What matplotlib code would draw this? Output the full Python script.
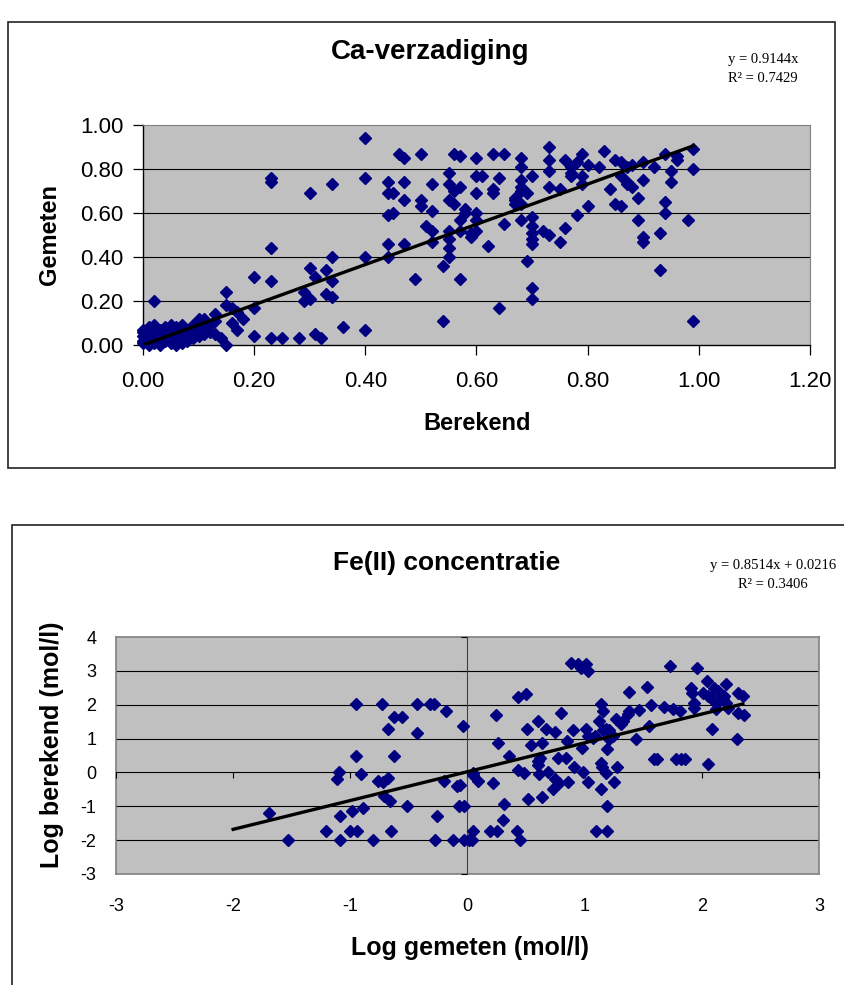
import matplotlib
matplotlib.use('Agg')
import matplotlib.pyplot as plt
from matplotlib.patches import Rectangle
import numpy as np

plt.rcParams['font.family'] = ['Liberation Sans', 'DejaVu Sans']
plt.rcParams['axes.unicode_minus'] = False

# --- Ca-verzadiging: berekend (x) vs gemeten (y) ---
ca_berekend = [
    0.00, 0.00, 0.00, 0.00, 0.01, 0.01, 0.01, 0.01, 0.02, 0.02, 0.02, 0.02, 0.03, 0.03, 0.03,
    0.04, 0.04, 0.04, 0.05, 0.05, 0.05, 0.05, 0.06, 0.06, 0.06, 0.06, 0.07, 0.07, 0.07, 0.08,
    0.08, 0.08, 0.09, 0.09, 0.09, 0.10, 0.10, 0.10, 0.11, 0.11, 0.12, 0.12, 0.13, 0.10, 0.01,
    0.00, 0.03, 0.04, 0.07, 0.02,
    0.40, 0.23, 0.23, 0.30, 0.34, 0.40, 0.23, 0.23, 0.20, 0.02, 0.15, 0.30, 0.31, 0.33, 0.34,
    0.34, 0.29, 0.29, 0.30, 0.33, 0.34, 0.40, 0.40, 0.36, 0.31, 0.32, 0.28, 0.25, 0.23, 0.20,
    0.20, 0.18, 0.16, 0.15, 0.17, 0.16, 0.17, 0.15, 0.13, 0.14, 0.13, 0.11,
    0.44, 0.44, 0.45, 0.46, 0.47, 0.47, 0.47, 0.44, 0.45, 0.44, 0.47, 0.44, 0.49, 0.50, 0.50,
    0.50, 0.52, 0.52, 0.51, 0.52, 0.52, 0.54, 0.54, 0.55, 0.55, 0.56, 0.57, 0.55, 0.56, 0.57,
    0.56, 0.55, 0.55, 0.55, 0.55, 0.57, 0.57, 0.58, 0.58, 0.57, 0.59, 0.59, 0.60, 0.60, 0.61,
    0.60, 0.60, 0.60, 0.60, 0.62, 0.63, 0.65, 0.63, 0.63, 0.64, 0.65, 0.64, 0.67, 0.67, 0.68,
    0.67, 0.68, 0.68, 0.68, 0.68, 0.68, 0.69, 0.68, 0.69, 0.70, 0.70, 0.70, 0.70, 0.70, 0.70,
    0.70, 0.70, 0.73, 0.73, 0.73, 0.73, 0.72, 0.73, 0.75, 0.76, 0.76, 0.75, 0.77, 0.77, 0.77,
    0.78, 0.78, 0.79, 0.79, 0.79, 0.80, 0.80, 0.82, 0.83, 0.84, 0.85, 0.86, 0.85, 0.86, 0.86,
    0.87, 0.87, 0.88, 0.87, 0.88, 0.89, 0.89, 0.90, 0.90, 0.90, 0.90, 0.92, 0.93, 0.93, 0.94,
    0.94, 0.94, 0.95, 0.95, 0.96, 0.96, 0.98, 0.99, 0.99, 0.99,
]
ca_gemeten = [
    0.02, 0.04, 0.06, 0.01, 0.03, 0.05, 0.07, 0.00, 0.02, 0.04, 0.06, 0.01, 0.03, 0.05, 0.00,
    0.02, 0.04, 0.06, 0.01, 0.03, 0.07, 0.09, 0.02, 0.05, 0.08, 0.00, 0.03, 0.06, 0.01, 0.04,
    0.02, 0.07, 0.05, 0.03, 0.09, 0.06, 0.04, 0.08, 0.07, 0.05, 0.09, 0.06, 0.11, 0.12, 0.08,
    0.07, 0.07, 0.08, 0.09, 0.09,
    0.94, 0.76, 0.74, 0.69, 0.73, 0.76, 0.44, 0.29, 0.31, 0.20, 0.24, 0.35, 0.31, 0.34, 0.40,
    0.29, 0.24, 0.20, 0.21, 0.23, 0.22, 0.40, 0.07, 0.08, 0.05, 0.03, 0.03, 0.03, 0.03, 0.04,
    0.17, 0.12, 0.17, 0.18, 0.15, 0.10, 0.07, 0.00, 0.05, 0.03, 0.14, 0.12,
    0.74, 0.69, 0.69, 0.87, 0.85, 0.74, 0.66, 0.59, 0.60, 0.46, 0.46, 0.40, 0.30, 0.87, 0.66,
    0.63, 0.73, 0.61, 0.54, 0.52, 0.47, 0.36, 0.11, 0.78, 0.73, 0.87, 0.86, 0.66, 0.64, 0.72,
    0.70, 0.52, 0.48, 0.44, 0.40, 0.57, 0.52, 0.60, 0.62, 0.30, 0.51, 0.49, 0.85, 0.77, 0.77,
    0.69, 0.60, 0.57, 0.52, 0.45, 0.87, 0.87, 0.71, 0.69, 0.76, 0.55, 0.17, 0.67, 0.66, 0.64,
    0.64, 0.85, 0.81, 0.75, 0.72, 0.70, 0.69, 0.57, 0.38, 0.77, 0.58, 0.54, 0.51, 0.48, 0.46,
    0.26, 0.21, 0.90, 0.84, 0.79, 0.72, 0.52, 0.50, 0.47, 0.84, 0.53, 0.71, 0.81, 0.78, 0.77,
    0.83, 0.59, 0.87, 0.77, 0.73, 0.82, 0.63, 0.81, 0.88, 0.71, 0.84, 0.83, 0.64, 0.63, 0.77,
    0.74, 0.73, 0.72, 0.81, 0.82, 0.67, 0.57, 0.83, 0.75, 0.49, 0.47, 0.81, 0.51, 0.34, 0.87,
    0.65, 0.60, 0.79, 0.74, 0.86, 0.84, 0.57, 0.89, 0.80, 0.11,
]
ca_slope = 0.9144
ca_fit_range = [0.0, 0.99]

# --- Fe(II) concentratie: log gemeten (x) vs log berekend (y) ---
fe_gemeten = [
    -1.69, -1.53, -1.21, -1.09, -1.09, -0.99, -0.89, -1.00, -0.94, -0.81, -1.11, -1.10, -0.91,
    -0.95, -0.95, -0.73, -0.63, -0.56, -0.68, -0.43, -0.43, -0.32, -0.29, -0.18, -0.04, -0.63,
    -0.76, -0.72, -0.68, -0.71, -0.66, -0.52, -0.65, -0.26, -0.28, -0.20, -0.09, -0.07, -0.03,
    -0.12, -0.03, 0.01, 0.04, 0.05, 0.05, 0.09, 0.05, -0.06, 0.22, 0.24, 0.26, 0.35, 0.31,
    0.30, 0.19, 0.25, 0.43, 0.50, 0.43, 0.48, 0.42, 0.45, 0.52, 0.64, 0.51, 0.60, 0.54, 0.64,
    0.60, 0.62, 0.60, 0.61, 0.69, 0.73, 0.75, 0.78, 0.67, 0.75, 0.80, 0.86, 0.77, 0.84, 0.85,
    0.91, 0.90, 0.88, 0.94, 0.97, 1.01, 1.03, 0.98, 0.99, 1.03, 1.01, 1.03, 1.07, 1.09, 1.12,
    1.16, 1.18, 1.21, 1.14, 1.16, 1.14, 1.15, 1.19, 1.14, 1.18, 1.19, 1.10, 1.19, 1.25, 1.28,
    1.21, 1.24, 1.27, 1.31, 1.33, 1.37, 1.38, 1.38, 1.44, 1.46, 1.53, 1.55, 1.57, 1.59, 1.62,
    1.68, 1.73, 1.75, 1.78, 1.82, 1.86, 1.81, 1.91, 1.92, 1.93, 1.93, 1.96, 2.04, 2.01, 2.05,
    2.08, 2.10, 2.14, 2.10, 2.15, 2.18, 2.09, 2.05, 2.12, 2.21, 2.22, 2.30, 2.31, 2.35, 2.31,
    2.36, 2.19, 2.21,
]
fe_berekend = [
    -1.21, -2.00, -1.74, -2.00, -1.29, -1.15, -1.06, -1.74, -1.74, -2.00, -0.18, 0.00, -0.06,
    0.50, 2.03, 2.03, 1.65, 1.65, 1.29, 1.15, 2.03, 2.03, 2.03, 1.82, 1.38, 0.50,
    -0.24, -0.29, -0.15, -0.71, -0.85, -1.00, -1.74, -1.29, -2.00, -0.24, -0.40, -1.00, -1.00,
    -2.00, -2.00, -2.00, -2.00, -1.74, -0.09, -0.24, -0.03, -0.38, -0.32, 1.71, 0.88, 0.50, -0.94,
    -1.41, -1.74, -1.74, 2.24, 2.32, 0.06, -0.03, -1.74, -2.00, -0.79, -0.74, 1.29, 1.53, 0.82, 0.88,
    0.35, 0.44, 0.21, -0.06, 0.00, -0.50, -0.18, -0.32, 1.29, 1.18, 1.76, -0.29, 0.44, 0.44, 0.94,
    0.15, 1.24, 3.24, 3.20, 3.09, 3.20, 3.00, 0.71, 0.00, -0.29, 1.29, 1.09, 1.03, 1.09, 1.53,
    1.24, 1.29, 1.24, 2.03, 1.82, 0.29, 0.15, 0.68, -0.50, -0.03, -1.00, -1.74, -1.74, -0.29, 0.15,
    1.00, 1.09, 1.59, 1.44, 1.53, 1.74, 1.82, 2.38, 1.00, 1.85, 2.53, 1.38, 2.00, 0.41, 0.41,
    1.94, 3.15, 1.88, 0.41, 0.41, 0.41, 1.82, 2.50, 2.35, 2.06, 1.91, 3.09, 2.71, 2.35, 2.26,
    2.21, 2.50, 2.41, 2.12, 2.12, 2.18, 1.29, 0.26, 1.88, 2.62, 1.91, 1.00, 2.35, 2.26, 1.76,
    1.71, 2.26, 2.06,
]
fe_slope = 0.8514
fe_intercept = 0.0216
fe_fit_range = [-2.0, 2.35]

W, H = 845, 985
fig = plt.figure(figsize=(W / 100, H / 100), dpi=100)


def px_rect(left, top, right, bottom):
    return [left / W, 1 - bottom / H, (right - left) / W, (bottom - top) / H]


def px_pt(x, y):
    return x / W, 1 - y / H


navy = '#000080'
plot_bg = '#C0C0C0'
border_grey = '#808080'
marker_size = 6.4

# outer chart frames
fig.add_artist(Rectangle(px_pt(8, 468), (835 - 8) / W, (468 - 22) / H,
                         transform=fig.transFigure, fill=False, ec='#222222', lw=1.2))
fig.add_artist(Rectangle(px_pt(12, 1000), (900 - 12) / W, (1000 - 525) / H,
                         transform=fig.transFigure, fill=False, ec='#222222', lw=1.2))

# ---------------- top chart ----------------
ax1 = fig.add_axes(px_rect(143, 125, 810, 345))
ax1.set_facecolor(plot_bg)
ax1.set_xlim(0, 1.2)
ax1.set_ylim(0, 1.0)
for yv in [0.2, 0.4, 0.6, 0.8]:
    ax1.axhline(yv, color='black', lw=0.8, zorder=1)
ax1.plot(ca_berekend, ca_gemeten, 'D', color=navy, ms=marker_size, ls='none',
         zorder=3, clip_on=False)
xs = np.array(ca_fit_range)
ax1.plot(xs, ca_slope * xs, color='black', lw=2.4, zorder=4)
xt = np.arange(0, 1.21, 0.2)
ax1.set_xticks(xt)
ax1.set_xticklabels([f'{v:.2f}' for v in xt])
yt = np.arange(0, 1.01, 0.2)
ax1.set_yticks(yt)
ax1.set_yticklabels([f'{v:.2f}' for v in yt])
ax1.tick_params(direction='out', length=7, width=0.9, labelsize=16)
ax1.tick_params(axis='x', pad=12)
ax1.tick_params(axis='y', pad=7)
for s in ['top', 'right']:
    ax1.spines[s].set_color(border_grey)
for s in ['left', 'bottom']:
    ax1.spines[s].set_color('black')
    ax1.spines[s].set_linewidth(1.0)

fig.text(*px_pt(430, 52), 'Ca-verzadiging', ha='center', va='center',
         fontsize=20, fontweight='bold')
fig.text(*px_pt(477, 424), 'Berekend', ha='center', va='center',
         fontsize=17, fontweight='bold')
fig.text(*px_pt(50, 235), 'Gemeten', ha='center', va='center',
         fontsize=17, fontweight='bold', rotation=90)
fig.text(*px_pt(763, 60), 'y = 0.9144x', ha='center', va='center',
         fontsize=10.5, family='Liberation Serif')
fig.text(*px_pt(763, 78), 'R² = 0.7429', ha='center', va='center',
         fontsize=10.5, family='Liberation Serif')

# ---------------- bottom chart ----------------
bottom_rect = px_rect(116, 637, 819, 874)
ax2 = fig.add_axes(bottom_rect)
ax2.set_facecolor(plot_bg)
ax2.set_xlim(-3, 3)
ax2.set_ylim(-3, 4)
ax2.set_xticks(range(-3, 4))
ax2.set_yticks(range(-3, 5))
for yv in [-2, -1, 1, 2, 3]:
    ax2.axhline(yv, color='black', lw=0.8, zorder=1)
for s in ax2.spines.values():
    s.set_color(border_grey)
    s.set_linewidth(1.2)
ax2.tick_params(length=0, labelsize=13)
ax2.tick_params(axis='x', pad=17)
ax2.tick_params(axis='y', pad=14)

# overlay axes: axis lines crossing at zero, plus the data
ax3 = fig.add_axes(bottom_rect, sharex=ax2, sharey=ax2)
ax3.patch.set_visible(False)
ax3.spines['left'].set_position(('data', 0))
ax3.spines['bottom'].set_position(('data', 0))
ax3.spines['left'].set_color('#404040')
ax3.spines['bottom'].set_color('black')
ax3.spines['top'].set_visible(False)
ax3.spines['right'].set_visible(False)
ax3.tick_params(direction='out', length=4, width=0.8,
                labelbottom=False, labelleft=False)
ax3.plot(fe_gemeten, fe_berekend, 'D', color=navy, ms=marker_size, ls='none', zorder=3)
xs = np.array(fe_fit_range)
ax3.plot(xs, fe_slope * xs + fe_intercept, color='black', lw=2.4, zorder=4)

fig.text(*px_pt(447, 563), 'Fe(II) concentratie', ha='center', va='center',
         fontsize=19, fontweight='bold')
fig.text(*px_pt(470, 948), 'Log gemeten (mol/l)', ha='center', va='center',
         fontsize=18, fontweight='bold')
fig.text(*px_pt(52, 745), 'Log berekend (mol/l)', ha='center', va='center',
         fontsize=18, fontweight='bold', rotation=90)
fig.text(*px_pt(773, 566), 'y = 0.8514x + 0.0216', ha='center', va='center',
         fontsize=10.5, family='Liberation Serif')
fig.text(*px_pt(773, 585), 'R² = 0.3406', ha='center', va='center',
         fontsize=10.5, family='Liberation Serif')

fig.savefig('out.png', dpi=100)
